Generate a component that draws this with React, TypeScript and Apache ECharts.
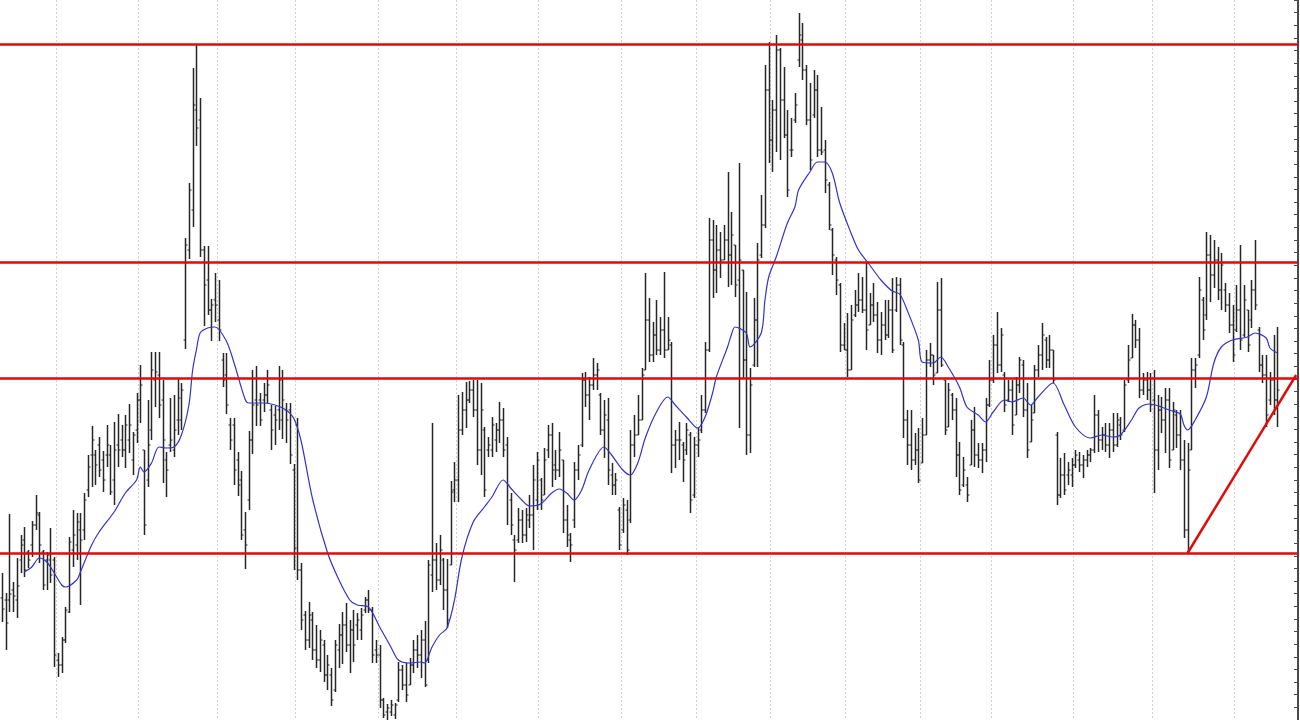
import React, { useEffect, useRef } from "react";
import * as echarts from "echarts";

// Daily OHLC values (price units)
const highs = [
  14.7, 12.7, 20.6, 13.8, 16.2, 18.5, 19.3, 17.0, 19.9, 22.5, 20.8, 17.0, 16.8, 19.2, 16.3, 6.7, 8.3, 11.3, 18.3, 21.0,
  20.7, 20.7, 22.7, 26.5, 29.4, 27.0, 28.3, 26.9, 29.5, 27.5, 29.8, 30.6, 29.5, 30.5, 31.6, 28.8, 32.7, 35.5, 27.0, 32.0,
  36.8, 36.8, 36.8, 34.0, 26.8, 32.2, 32.5, 34.2, 33.7, 48.2, 53.7, 65.2, 67.6, 62.2, 47.4, 47.4, 42.1, 44.7, 44.0, 36.7, 36.7,
  30.2, 30.2, 26.8, 24.9, 20.8, 28.9, 35.0, 35.4, 32.7, 33.7, 35.0, 31.5, 31.4, 35.4, 35.0, 31.7, 31.7, 25.6, 30.2,
  15.7, 10.9, 11.8, 10.8, 9.5, 9.0, 8.0, 6.5, 5.2, 8.0, 9.6, 10.8, 11.7,
  10.0, 11.0, 10.7, 11.2, 12.3, 13.0, 11.3, 8.0, 7.5, 2.2, 1.6, 2.0, 1.7, 5.8, 5.5, 5.7, 6.2, 8.0, 8.5, 9.0,
  9.9, 16.0, 29.7, 17.7, 18.5, 16.2, 16.1, 23.9, 25.8, 32.5, 32.8, 33.8, 33.9, 34.0, 34.0, 33.7, 29.3, 28.3, 30.3, 29.7,
  31.8, 31.2, 28.3, 22.7, 18.5, 21.2, 21.0, 21.2, 22.5, 25.5, 26.8, 24.2, 27.2, 29.5, 29.7, 27.0, 28.8, 26.0, 21.5, 18.7,
  25.8, 27.5, 34.7, 34.8,
  34.3, 36.2, 35.7, 32.7, 32.0, 32.2, 25.7, 24.7, 21.3, 22.2, 22.0, 29.0, 30.5, 32.5, 35.2, 44.7, 42.2, 39.8, 42.0, 40.3,
  44.8, 40.3, 37.8, 29.0, 29.8, 27.8, 29.7, 28.8, 28.3, 29.3, 32.5, 37.8, 50.2, 50.0, 49.5, 48.8, 49.5, 54.8, 50.8, 47.5,
  55.7, 45.0, 42.8, 35.2, 42.2, 47.7, 52.5,
  65.5, 67.8, 62.0, 68.5, 67.2, 65.3, 61.0, 60.2, 62.7, 70.7, 69.7, 65.5, 63.7, 65.0, 64.5, 61.3, 58.0, 53.8, 49.2, 46.3,
  43.7, 39.7, 40.7, 41.5, 43.0, 44.7, 44.3, 45.7, 42.7, 43.7, 41.8, 40.8, 42.0, 42.0, 44.2, 44.3, 44.2, 37.8, 31.0, 31.0,
  28.7, 29.2, 30.2, 37.0, 37.7, 36.5, 43.8, 44.2, 34.0, 33.7, 32.7, 32.2,
  27.8, 26.3, 24.3, 30.0, 31.3, 27.7, 27.7, 32.2, 36.0, 38.5, 40.8, 39.2, 34.8, 34.0, 34.0, 34.3, 36.3, 36.0, 33.7, 31.5,
  35.5, 37.5, 39.7, 38.3, 38.5, 37.0, 28.8, 26.2, 26.7, 25.8, 26.2, 27.0, 26.8, 26.5, 27.0, 27.2, 32.5, 31.0, 29.3, 29.7,
  29.7, 30.7, 30.7, 30.3, 34.0, 37.5, 40.6, 40.0, 39.2, 34.7, 34.8, 34.7, 35.0, 32.5, 32.3, 33.2, 33.2, 31.8, 31.0, 31.0,
  28.0, 27.7, 36.2, 36.2,
  44.3, 42.3, 48.8, 48.5, 48.0, 47.3, 46.7, 43.7, 42.7, 41.5, 43.5, 47.5, 43.5, 41.0, 44.0, 48.0, 39.3, 36.5, 36.5, 34.8,
  38.5, 39.3,
];

const lows = [
  9.8, 7.0, 10.8, 10.8, 10.2, 14.7, 14.3, 15.2, 16.3, 19.0, 15.7, 13.0, 13.0, 13.7, 5.3, 4.3, 4.7, 7.7, 10.7, 15.3,
  16.0, 11.5, 18.0, 22.3, 23.3, 23.5, 24.3, 22.8, 25.3, 22.5, 21.5, 25.3, 26.3, 25.2, 26.7, 24.5, 27.7, 29.7, 18.5, 23.3,
  28.0, 31.3, 30.2, 23.7, 22.3, 26.8, 26.3, 28.5, 29.0, 37.1, 46.1, 49.3, 57.4, 46.3, 39.4, 40.5, 37.9, 39.8, 37.9, 33.3, 30.6,
  27.0, 23.5, 22.4, 18.0, 15.1, 21.0, 26.6, 29.4, 29.4, 30.8, 31.7, 27.0, 27.5, 29.0, 28.1, 27.7, 25.6, 15.0, 14.0,
  9.0, 7.0, 7.2, 6.0, 5.2, 4.8, 3.8, 3.0, 1.4, 2.8, 5.2, 5.6, 6.8,
  4.7, 5.8, 8.0, 8.0, 10.7, 10.7, 5.7, 5.7, 1.2, 0.2, 0.0, 0.4, 0.1, 1.8, 3.0, 1.8, 3.5, 4.7, 5.2, 4.2,
  3.3, 5.7, 12.8, 13.0, 13.5, 11.0, 9.2, 15.5, 21.8, 21.8, 28.5, 29.2, 31.7, 30.3, 25.5, 24.5, 22.3, 26.3, 26.3, 26.8,
  27.7, 26.3, 19.5, 18.5, 13.8, 17.7, 17.7, 17.8, 19.2, 17.0, 21.0, 21.0, 22.5, 26.2, 23.3, 24.0, 24.3, 18.7, 17.3, 15.8,
  19.2, 24.0, 27.3, 31.3,
  30.0, 33.0, 33.0, 28.5, 26.2, 23.5, 22.5, 22.5, 17.0, 18.7, 16.5, 19.7, 26.3, 28.5, 30.0, 35.0, 35.8, 35.8, 36.5, 36.5,
  36.2, 37.0, 24.7, 25.2, 26.0, 23.8, 26.5, 20.7, 22.2, 26.3, 28.7, 30.7, 36.8, 42.2, 42.7, 44.2, 46.0, 43.3, 43.5, 42.3,
  29.2, 34.2, 26.5, 26.7, 35.3, 35.3, 46.2,
  49.2, 55.7, 54.8, 56.8, 56.0, 58.2, 52.3, 56.3, 59.7, 65.3, 64.0, 59.5, 55.0, 60.2, 56.3, 56.5, 52.7, 49.0, 44.5, 42.5,
  36.8, 37.0, 34.3, 35.0, 40.3, 40.8, 40.7, 37.0, 39.5, 39.8, 36.7, 36.5, 38.0, 38.2, 36.7, 40.8, 37.5, 28.2, 25.5, 25.0,
  25.5, 23.7, 25.7, 28.5, 35.3, 33.5, 34.7, 35.3, 28.5, 29.3, 30.0, 24.3,
  22.5, 23.3, 21.8, 25.5, 25.3, 25.2, 24.7, 25.8, 31.3, 33.7, 34.7, 34.8, 30.8, 31.8, 28.5, 30.5, 32.7, 30.3, 26.2, 27.8,
  30.7, 34.3, 35.0, 35.2, 35.2, 33.7, 21.5, 22.2, 22.5, 23.5, 23.3, 25.2, 24.8, 24.2, 25.3, 25.8, 26.7, 26.8, 27.0, 26.8,
  26.2, 26.8, 27.3, 28.0, 28.8, 33.7, 36.2, 37.2, 32.2, 32.5, 32.0, 30.8, 22.7, 25.0, 28.7, 26.7, 25.2, 27.0, 27.2, 25.0,
  18.2, 16.7, 27.0, 33.2,
  36.2, 38.0, 40.0, 41.8, 43.2, 42.0, 41.0, 40.8, 38.7, 35.8, 38.8, 37.0, 38.3, 36.8, 39.2, 41.0, 34.8, 33.7, 29.3, 31.5,
  30.5, 29.3,
];

const opens = [
  12.2, 12.0, 12.0, 13.0, 12.0, 16.0, 18.0, 16.8, 17.5, 19.5, 20.5, 16.8, 16.0, 16.0, 16.0, 6.0, 5.5, 8.0, 10.8, 17.0,
  17.5, 19.0, 19.0, 23.0, 26.5, 26.5, 27.5, 26.0, 26.5, 26.5, 24.0, 27.5, 28.0, 27.0, 28.0, 26.0, 29.0, 32.0, 27.0, 24.0,
  29.0, 34.0, 34.5, 32.0, 26.0, 27.5, 27.0, 30.0, 30.0, 38.0, 47.0, 51.0, 61.0, 60.0, 47.0, 44.0, 41.0, 42.0, 40.0, 36.0, 34.5,
  29.5, 29.5, 26.0, 24.0, 19.0, 22.0, 28.0, 32.0, 32.0, 32.0, 32.5, 31.0, 30.5, 31.0, 30.0, 31.0, 31.0, 25.0, 29.5,
  15.0, 10.5, 8.0, 10.0, 7.0, 6.0, 7.5, 4.5, 4.5, 3.0, 7.0, 8.5, 9.5,
  7.5, 9.0, 9.5, 9.0, 11.0, 12.0, 11.0, 7.0, 6.5, 2.0, 0.8, 0.8, 0.5, 2.0, 5.0, 3.5, 3.5, 5.5, 7.0, 6.5,
  8.0, 6.0, 14.5, 16.0, 14.0, 16.0, 13.0, 15.5, 23.0, 24.0, 29.0, 31.0, 32.0, 33.0, 31.0, 27.0, 29.0, 27.0, 27.0, 28.0,
  29.0, 30.0, 27.5, 22.0, 18.0, 18.0, 20.0, 18.5, 20.0, 20.5, 22.0, 24.0, 22.5, 27.0, 28.5, 25.5, 25.0, 26.0, 20.0, 18.0,
  20.0, 25.0, 27.5, 34.0,
  32.5, 33.5, 34.5, 32.5, 29.0, 30.0, 24.5, 23.5, 21.0, 19.0, 21.0, 20.0, 27.5, 28.5, 30.0, 35.0, 40.0, 36.5, 38.5, 37.0,
  39.0, 37.0, 37.5, 27.5, 28.0, 27.5, 27.0, 28.5, 22.5, 27.5, 29.0, 31.0, 37.0, 48.0, 45.0, 47.0, 46.0, 48.0, 46.5, 47.5,
  44.0, 45.0, 36.0, 28.5, 35.5, 40.0, 46.5,
  49.5, 63.0, 58.0, 61.0, 67.0, 62.0, 58.5, 57.0, 60.0, 66.0, 68.0, 65.0, 60.0, 60.5, 63.0, 57.0, 57.0, 53.5, 49.0, 46.0,
  43.5, 37.5, 37.0, 35.0, 40.5, 41.5, 42.0, 41.0, 39.5, 41.5, 40.5, 38.0, 39.5, 38.5, 41.0, 41.0, 43.5, 37.5, 30.0, 27.5,
  26.0, 27.0, 25.7, 28.5, 36.0, 36.5, 34.7, 41.0, 34.0, 29.3, 32.5, 31.0,
  26.5, 23.5, 23.5, 25.5, 29.0, 26.5, 26.0, 27.0, 31.5, 34.0, 37.5, 35.5, 34.5, 32.0, 33.0, 30.5, 33.5, 35.5, 31.0, 27.8,
  30.7, 35.0, 36.5, 38.0, 36.0, 37.0, 28.5, 22.5, 24.5, 24.5, 24.5, 25.5, 26.0, 25.5, 26.0, 26.5, 27.0, 30.5, 28.0, 28.5,
  27.5, 29.0, 27.5, 29.5, 29.0, 34.0, 36.2, 39.5, 38.0, 33.0, 34.0, 33.0, 32.0, 27.0, 31.0, 30.0, 32.0, 27.0, 30.5, 28.5,
  26.0, 19.0, 27.0, 35.0,
  36.5, 42.0, 40.5, 46.5, 44.5, 46.0, 43.0, 43.0, 41.5, 39.5, 39.0, 41.0, 38.5, 41.0, 40.0, 43.0, 39.0, 35.5, 34.5, 32.0,
  34.0, 32.0,
];

const closes = [
  11.1, 9.7, 12.6, 12.4, 13.4, 17.5, 15.0, 16.0, 19.5, 20.7, 17.5, 13.5, 16.5, 14.5, 6.5, 5.5, 8.0, 11.0, 17.8, 18.5,
  19.8, 18.0, 22.0, 25.3, 28.0, 25.5, 25.0, 24.0, 27.5, 22.8, 27.0, 27.0, 27.0, 29.5, 29.5, 28.5, 32.0, 33.5, 19.5, 27.5,
  35.0, 34.8, 31.5, 28.0, 25.0, 28.0, 29.0, 32.2, 33.0, 47.5, 53.0, 61.5, 59.2, 47.0, 43.5, 41.0, 41.5, 41.5, 39.0, 34.0, 31.5,
  28.0, 25.0, 23.5, 18.5, 17.5, 28.0, 31.5, 31.5, 30.0, 32.5, 33.5, 29.0, 30.0, 34.0, 32.0, 30.0, 26.5, 17.2, 15.0,
  10.0, 8.0, 10.5, 7.0, 6.0, 8.0, 4.5, 5.5, 2.0, 7.5, 8.5, 9.5, 7.5,
  9.0, 7.5, 10.0, 10.5, 12.0, 11.0, 6.5, 6.5, 2.0, 0.5, 1.2, 1.5, 1.5, 5.0, 3.5, 2.5, 5.5, 7.0, 6.5, 8.0,
  3.5, 15.5, 16.0, 14.0, 17.0, 13.0, 10.0, 22.8, 24.0, 29.0, 31.0, 32.0, 33.0, 31.0, 27.0, 31.0, 23.0, 27.5, 29.5, 29.0,
  30.0, 27.0, 23.5, 19.5, 17.0, 20.0, 18.5, 20.5, 20.5, 24.0, 26.0, 22.0, 26.0, 28.5, 25.0, 25.0, 27.0, 20.0, 18.5, 17.5,
  25.0, 26.5, 34.0, 32.5,
  33.5, 34.5, 35.0, 29.0, 30.5, 25.0, 23.5, 24.0, 17.5, 21.5, 17.0, 27.5, 28.5, 30.0, 34.5, 40.0, 36.5, 38.5, 37.0, 39.0,
  37.0, 38.0, 27.5, 28.0, 28.0, 26.0, 29.0, 22.0, 27.5, 28.0, 31.0, 37.0, 48.0, 45.0, 47.0, 46.0, 48.0, 46.5, 48.5, 43.5,
  46.0, 36.0, 28.5, 33.5, 40.0, 46.0, 49.5,
  63.0, 58.0, 61.0, 67.0, 62.0, 58.5, 53.0, 57.0, 61.5, 68.5, 65.0, 60.0, 56.0, 63.0, 57.0, 56.8, 54.0, 49.5, 46.5, 44.0,
  37.5, 37.0, 35.0, 40.0, 41.5, 42.0, 41.0, 39.0, 41.5, 40.5, 38.0, 39.5, 38.5, 41.0, 37.0, 43.5, 38.0, 30.0, 27.5, 26.0,
  27.0, 24.0, 28.5, 36.0, 36.5, 34.5, 41.0, 35.5, 29.0, 33.0, 31.0, 26.5,
  23.0, 25.0, 22.5, 29.0, 26.5, 26.0, 27.0, 31.5, 34.0, 37.5, 35.5, 38.5, 31.5, 33.0, 29.5, 33.5, 36.0, 31.0, 27.0, 30.0,
  35.0, 36.5, 38.5, 36.0, 37.0, 34.0, 22.5, 24.5, 23.0, 25.0, 25.5, 26.5, 25.5, 26.0, 26.5, 27.0, 30.5, 28.0, 28.5, 27.5,
  29.0, 27.5, 30.0, 28.5, 33.5, 36.0, 39.5, 38.0, 33.0, 34.0, 33.0, 31.5, 27.0, 31.0, 30.0, 32.0, 26.0, 31.0, 28.5, 26.0,
  19.0, 25.0, 35.0, 35.5,
  43.0, 39.0, 46.5, 44.5, 46.0, 43.0, 45.5, 41.5, 39.5, 36.5, 41.0, 38.0, 42.0, 37.5, 43.0, 41.5, 35.5, 34.5, 30.5, 34.0,
  32.0, 33.0,
];

// Moving-average line: [day index, value]
const maPoints = [
  [6, 14.8], [8, 15.3], [10, 16.2], [12, 15.8], [14, 14.7], [16, 13.5], [17, 13.3], [20, 14.0], [21, 14.8], [24, 17.5],
  [26, 18.8], [30, 20.8], [33, 22.7], [36, 24.0], [37, 25.3], [38, 24.8], [40, 25.7], [42, 27.3], [44, 27.2], [46, 27.3],
  [48, 28.5], [50, 31.5], [51, 35.0], [52, 37.0], [53, 38.7], [55, 39.2], [57, 39.3], [60, 37.9], [62, 35.8], [65, 32.1],
  [66, 31.7], [70, 31.7], [73, 31.5], [76, 31.0], [78, 30.2], [80, 27.9], [83, 22.2], [87, 16.8], [90, 14.1], [93, 12.0],
  [95, 11.5], [98, 11.3], [101, 9.3], [104, 7.3], [106, 6.0], [109, 5.7], [112, 5.8], [113, 5.7], [115, 7.3], [117, 8.5],
  [119, 9.2], [121, 12.0], [123, 16.3], [126, 19.8], [129, 21.3], [131, 22.3], [134, 24.0], [136, 23.2], [139, 22.0],
  [141, 21.4], [144, 21.6], [147, 22.7], [149, 23.1], [151, 22.7], [153, 22.0], [155, 23.0], [157, 25.0], [161, 27.3],
  [163, 26.5], [166, 25.0], [168, 24.5], [170, 25.7], [172, 28.2], [175, 30.8], [178, 32.3], [180, 31.5], [183, 30.3],
  [186, 29.2], [188, 30.3], [190, 32.7], [191, 34.3], [194, 37.3], [195, 38.5], [196, 39.3], [199, 38.7], [200, 37.3],
  [203, 38.7], [204, 42.0], [205, 44.3], [207, 46.3], [210, 49.7], [212, 51.3], [213, 53.0], [216, 54.8], [218, 55.8],
  [220, 55.8], [222, 54.7], [224, 51.7], [227, 48.7], [229, 47.0], [232, 45.5], [235, 44.0], [238, 42.9], [240, 42.6],
  [242, 41.0], [245, 38.0], [246, 35.8], [249, 35.7], [251, 36.3], [253, 35.3], [256, 33.3], [258, 31.3], [261, 30.5],
  [263, 29.8], [265, 30.8], [268, 32.0], [270, 31.8], [273, 32.2], [275, 31.5], [277, 32.3], [281, 33.7], [284, 31.5],
  [287, 29.3], [291, 28.2], [294, 28.5], [297, 28.3], [299, 28.5], [302, 30.0], [304, 31.2], [307, 31.6], [310, 31.3],
  [312, 31.0], [315, 30.6], [316, 29.5], [317, 29.0], [319, 30.0], [322, 32.3], [324, 35.7], [326, 37.3], [329, 38.0],
  [333, 38.3], [335, 38.7], [338, 38.2], [339, 37.2], [341, 36.7],
];

// Horizontal support / resistance levels and the rising trend line
const levels = [67.6, 45.8, 34.2, 16.7];
const trendStart = [317, 16.7];
const trendEnd = [346, 34.5];

// First trading day of each month (category index where the dotted grid line falls)
const monthStarts = [15, 37, 58, 79, 101, 122, 144, 166, 186, 206, 226, 246, 265, 287, 308, 330];
const totalSlots = 347;

export default function App() {
  const ref = useRef<HTMLDivElement>(null);

  useEffect(() => {
    const chart = echarts.init(ref.current as HTMLDivElement, null, { renderer: "svg" });
    const categories = Array.from({ length: totalSlots }, (_, i) => String(i));
    const ohlc = highs.map((h, i) => [i, opens[i], h, lows[i], closes[i]]);
    const barColor = "#262626";

    chart.setOption({
      animation: false,
      backgroundColor: "#ffffff",
      grid: [
        { left: 0, right: 2, top: 0, bottom: 0 },
        { left: 0, right: 2, top: -8.9, bottom: -6.4 },
      ],
      xAxis: [
        {
          type: "category",
          gridIndex: 0,
          data: categories,
          boundaryGap: true,
          axisLine: { show: false },
          axisTick: { show: false },
          axisLabel: { show: false },
          splitLine: {
            show: true,
            interval: (idx: number) => monthStarts.includes(idx),
            lineStyle: { color: "#d2d2d2", width: 1, type: [2, 2] },
          },
        },
        { type: "value", gridIndex: 1, show: false, min: 0, max: 1 },
      ],
      yAxis: [
        { type: "value", gridIndex: 0, min: 0, max: 72, show: false },
        {
          type: "value",
          gridIndex: 1,
          position: "right",
          min: 0,
          max: 57,
          interval: 1,
          axisLine: { show: true, onZero: false, lineStyle: { color: "#4a4a4a", width: 2 } },
          axisTick: { show: true, inside: true, length: 4, lineStyle: { color: "#4a4a4a", width: 1 } },
          axisLabel: { show: false },
          splitLine: { show: false },
        },
      ],
      series: [
        {
          type: "custom",
          xAxisIndex: 0,
          yAxisIndex: 0,
          data: ohlc,
          encode: { x: 0, y: [1, 2, 3, 4] },
          renderItem: (params: any, api: any) => {
            const i = api.value(0);
            const o = api.coord([i, api.value(1)]);
            const h = api.coord([i, api.value(2)]);
            const l = api.coord([i, api.value(3)]);
            const c = api.coord([i, api.value(4)]);
            const x = Math.round(h[0]) + 0.5;
            return {
              type: "group",
              children: [
                { type: "line", shape: { x1: x, y1: h[1], x2: x, y2: l[1] }, style: { stroke: barColor, lineWidth: 1.5 } },
                { type: "line", shape: { x1: x - 2, y1: o[1], x2: x, y2: o[1] }, style: { stroke: barColor, lineWidth: 1 } },
                { type: "line", shape: { x1: x, y1: c[1], x2: x + 2, y2: c[1] }, style: { stroke: barColor, lineWidth: 1 } },
              ],
            };
          },
          z: 2,
        },
        {
          type: "line",
          xAxisIndex: 0,
          yAxisIndex: 0,
          data: maPoints,
          smooth: 0.3,
          showSymbol: false,
          symbol: "none",
          lineStyle: { color: "#3434c8", width: 1.2 },
          z: 3,
          markLine: {
            silent: true,
            symbol: ["none", "none"],
            label: { show: false },
            lineStyle: { color: "#e10a0a", width: 2.5, type: "solid" },
            emphasis: { disabled: true },
            data: [
              ...levels.map((v) => ({ yAxis: v })),
              [{ coord: [trendStart[0], trendStart[1]] }, { coord: [trendEnd[0], trendEnd[1]] }],
            ],
          },
        },
        {
          type: "line",
          xAxisIndex: 1,
          yAxisIndex: 1,
          data: [],
        },
      ],
    });

    return () => chart.dispose();
  }, []);

  return (
    <div
      ref={ref}
      style={{ position: "fixed", left: 0, top: 0, width: 1300, height: 720, background: "#ffffff" }}
    />
  );
}
